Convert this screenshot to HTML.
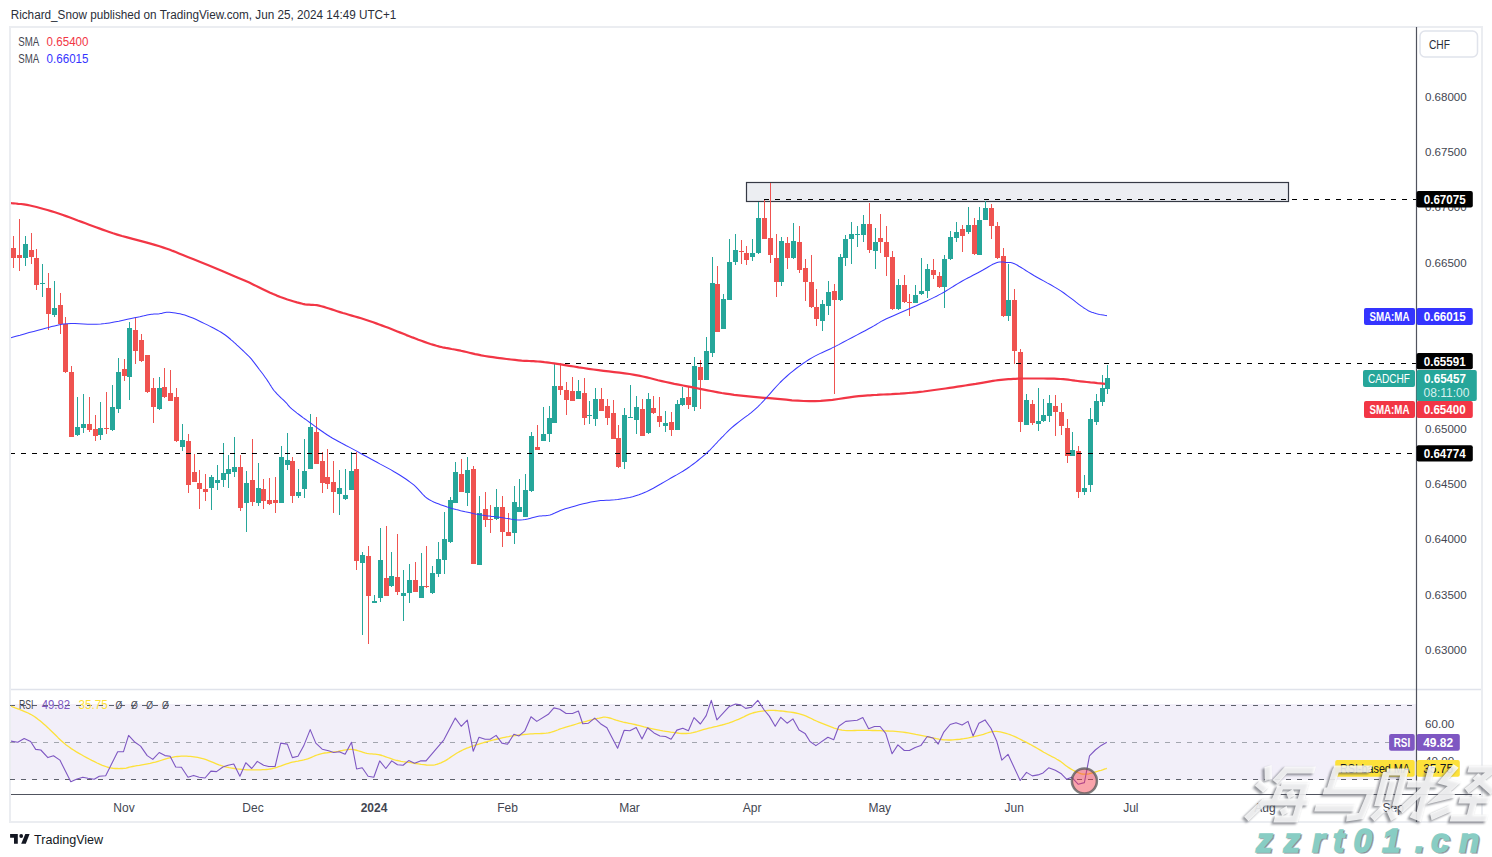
<!DOCTYPE html><html><head><meta charset="utf-8"><style>html,body{margin:0;padding:0;background:#fff;width:1492px;height:857px;overflow:hidden;position:relative}</style></head><body><svg width="1492" height="857" viewBox="0 0 1492 857" style="position:absolute;left:0;top:0">
<style>text{font-family:"Liberation Sans",sans-serif}</style>
<rect x="0" y="0" width="1492" height="857" fill="#ffffff"/>
<text x="10.7" y="19.1" font-size="12.5" fill="#2a2e39" textLength="385.7" lengthAdjust="spacingAndGlyphs">Richard_Snow published on TradingView.com, Jun 25, 2024 14:49 UTC+1</text>
<rect x="10" y="27" width="1472" height="795" fill="none" stroke="#ebedf1" stroke-width="2"/>
<rect x="11" y="704" width="1405" height="76" fill="#f2eff9"/>
<line x1="11" y1="689.5" x2="1481" y2="689.5" stroke="#e0e3eb" stroke-width="1.5"/>
<g shape-rendering="crispEdges">
<line x1="10" y1="705.5" x2="1416" y2="705.5" stroke="#5d606b" stroke-width="1" stroke-dasharray="5,6"/>
<line x1="10" y1="742.5" x2="1416" y2="742.5" stroke="#a3a6af" stroke-width="1" stroke-dasharray="5,6"/>
<line x1="10" y1="779.5" x2="1416" y2="779.5" stroke="#5d606b" stroke-width="1" stroke-dasharray="5,6"/>
</g>
<defs><clipPath id="cp"><rect x="11" y="28" width="1405" height="661"/></clipPath>
<clipPath id="cr"><rect x="11" y="690" width="1405" height="104"/></clipPath></defs>
<g clip-path="url(#cp)">
<rect x="746.5" y="182.5" width="542" height="19" fill="#eceef2" stroke="#363a45" stroke-width="1.2"/>
<g shape-rendering="crispEdges">
<rect x="13" y="235.5" width="1" height="32.1" fill="#ef5350"/>
<rect x="11" y="248.0" width="5" height="9.8" fill="#ef5350"/>
<rect x="19" y="219.2" width="1" height="51.6" fill="#ef5350"/>
<rect x="17" y="255.0" width="5" height="3.4" fill="#ef5350"/>
<rect x="25" y="236.2" width="1" height="29.4" fill="#26a69a"/>
<rect x="23" y="243.7" width="5" height="14.7" fill="#26a69a"/>
<rect x="31" y="233.0" width="1" height="31.3" fill="#ef5350"/>
<rect x="29" y="249.6" width="5" height="7.2" fill="#ef5350"/>
<rect x="36" y="249.3" width="1" height="40.2" fill="#ef5350"/>
<rect x="34" y="257.8" width="5" height="26.8" fill="#ef5350"/>
<rect x="42" y="264.3" width="1" height="32.7" fill="#26a69a"/>
<rect x="40" y="282.8" width="5" height="1.0" fill="#26a69a"/>
<rect x="48" y="273.0" width="1" height="57.3" fill="#ef5350"/>
<rect x="46" y="287.8" width="5" height="26.2" fill="#ef5350"/>
<rect x="54" y="281.3" width="1" height="36.0" fill="#26a69a"/>
<rect x="52" y="308.0" width="5" height="6.6" fill="#26a69a"/>
<rect x="60" y="292.7" width="1" height="40.9" fill="#ef5350"/>
<rect x="58" y="304.8" width="5" height="19.0" fill="#ef5350"/>
<rect x="65" y="317.3" width="1" height="55.5" fill="#ef5350"/>
<rect x="63" y="323.8" width="5" height="48.4" fill="#ef5350"/>
<rect x="71" y="366.3" width="1" height="70.7" fill="#ef5350"/>
<rect x="69" y="372.2" width="5" height="64.3" fill="#ef5350"/>
<rect x="77" y="397.3" width="1" height="38.2" fill="#26a69a"/>
<rect x="75" y="426.7" width="5" height="8.2" fill="#26a69a"/>
<rect x="83" y="394.0" width="1" height="39.3" fill="#26a69a"/>
<rect x="81" y="423.5" width="5" height="4.2" fill="#26a69a"/>
<rect x="89" y="397.3" width="1" height="35.0" fill="#ef5350"/>
<rect x="87" y="424.4" width="5" height="5.6" fill="#ef5350"/>
<rect x="95" y="415.3" width="1" height="26.1" fill="#ef5350"/>
<rect x="93" y="429.3" width="5" height="6.6" fill="#ef5350"/>
<rect x="100" y="402.2" width="1" height="37.6" fill="#26a69a"/>
<rect x="98" y="428.4" width="5" height="6.5" fill="#26a69a"/>
<rect x="106" y="392.4" width="1" height="41.8" fill="#ef5350"/>
<rect x="104" y="428.0" width="5" height="1.0" fill="#ef5350"/>
<rect x="112" y="385.2" width="1" height="45.3" fill="#26a69a"/>
<rect x="110" y="407.1" width="5" height="22.9" fill="#26a69a"/>
<rect x="118" y="358.1" width="1" height="54.6" fill="#26a69a"/>
<rect x="116" y="372.2" width="5" height="36.6" fill="#26a69a"/>
<rect x="124" y="359.0" width="1" height="22.0" fill="#ef5350"/>
<rect x="122" y="368.9" width="5" height="7.2" fill="#ef5350"/>
<rect x="129" y="322.2" width="1" height="77.4" fill="#26a69a"/>
<rect x="127" y="327.7" width="5" height="49.0" fill="#26a69a"/>
<rect x="135" y="317.3" width="1" height="46.4" fill="#ef5350"/>
<rect x="133" y="329.7" width="5" height="20.9" fill="#ef5350"/>
<rect x="141" y="333.6" width="1" height="28.4" fill="#ef5350"/>
<rect x="139" y="340.1" width="5" height="21.3" fill="#ef5350"/>
<rect x="147" y="354.8" width="1" height="38.2" fill="#ef5350"/>
<rect x="145" y="355.0" width="5" height="37.4" fill="#ef5350"/>
<rect x="153" y="377.7" width="1" height="44.8" fill="#ef5350"/>
<rect x="151" y="387.5" width="5" height="19.6" fill="#ef5350"/>
<rect x="159" y="377.0" width="1" height="33.0" fill="#26a69a"/>
<rect x="157" y="387.5" width="5" height="21.9" fill="#26a69a"/>
<rect x="164" y="367.9" width="1" height="30.1" fill="#ef5350"/>
<rect x="162" y="386.5" width="5" height="10.8" fill="#ef5350"/>
<rect x="170" y="369.5" width="1" height="31.5" fill="#ef5350"/>
<rect x="168" y="393.1" width="5" height="7.5" fill="#ef5350"/>
<rect x="176" y="387.5" width="1" height="54.5" fill="#ef5350"/>
<rect x="174" y="397.3" width="5" height="44.1" fill="#ef5350"/>
<rect x="182" y="424.2" width="1" height="26.5" fill="#26a69a"/>
<rect x="180" y="440.0" width="5" height="6.6" fill="#26a69a"/>
<rect x="188" y="434.3" width="1" height="58.5" fill="#ef5350"/>
<rect x="186" y="441.2" width="5" height="43.4" fill="#ef5350"/>
<rect x="194" y="453.9" width="1" height="28.1" fill="#ef5350"/>
<rect x="192" y="471.9" width="5" height="9.8" fill="#ef5350"/>
<rect x="199" y="470.3" width="1" height="38.4" fill="#ef5350"/>
<rect x="197" y="483.0" width="5" height="6.0" fill="#ef5350"/>
<rect x="205" y="474.3" width="1" height="26.7" fill="#ef5350"/>
<rect x="203" y="489.0" width="5" height="2.8" fill="#ef5350"/>
<rect x="211" y="475.2" width="1" height="34.6" fill="#26a69a"/>
<rect x="209" y="477.1" width="5" height="10.8" fill="#26a69a"/>
<rect x="217" y="465.0" width="1" height="24.9" fill="#26a69a"/>
<rect x="215" y="480.0" width="5" height="2.5" fill="#26a69a"/>
<rect x="223" y="442.8" width="1" height="43.8" fill="#26a69a"/>
<rect x="221" y="473.2" width="5" height="6.5" fill="#26a69a"/>
<rect x="228" y="455.2" width="1" height="32.7" fill="#26a69a"/>
<rect x="226" y="469.1" width="5" height="4.8" fill="#26a69a"/>
<rect x="234" y="437.3" width="1" height="39.5" fill="#26a69a"/>
<rect x="232" y="467.0" width="5" height="4.6" fill="#26a69a"/>
<rect x="240" y="455.2" width="1" height="55.6" fill="#ef5350"/>
<rect x="238" y="467.0" width="5" height="40.8" fill="#ef5350"/>
<rect x="246" y="471.1" width="1" height="60.4" fill="#26a69a"/>
<rect x="244" y="483.0" width="5" height="19.6" fill="#26a69a"/>
<rect x="252" y="439.2" width="1" height="66.7" fill="#ef5350"/>
<rect x="250" y="480.0" width="5" height="21.6" fill="#ef5350"/>
<rect x="258" y="462.9" width="1" height="43.0" fill="#26a69a"/>
<rect x="256" y="488.2" width="5" height="14.4" fill="#26a69a"/>
<rect x="263" y="478.9" width="1" height="29.8" fill="#ef5350"/>
<rect x="261" y="489.0" width="5" height="11.5" fill="#ef5350"/>
<rect x="269" y="478.1" width="1" height="26.4" fill="#ef5350"/>
<rect x="267" y="500.2" width="5" height="3.6" fill="#ef5350"/>
<rect x="275" y="477.1" width="1" height="35.6" fill="#ef5350"/>
<rect x="273" y="500.2" width="5" height="2.4" fill="#ef5350"/>
<rect x="281" y="446.1" width="1" height="56.9" fill="#26a69a"/>
<rect x="279" y="457.2" width="5" height="45.4" fill="#26a69a"/>
<rect x="287" y="433.2" width="1" height="36.8" fill="#26a69a"/>
<rect x="285" y="460.1" width="5" height="4.4" fill="#26a69a"/>
<rect x="292" y="457.2" width="1" height="45.4" fill="#ef5350"/>
<rect x="290" y="461.3" width="5" height="34.3" fill="#ef5350"/>
<rect x="298" y="469.0" width="1" height="28.7" fill="#26a69a"/>
<rect x="296" y="492.3" width="5" height="3.3" fill="#26a69a"/>
<rect x="304" y="439.2" width="1" height="58.5" fill="#26a69a"/>
<rect x="302" y="471.1" width="5" height="17.9" fill="#26a69a"/>
<rect x="310" y="414.4" width="1" height="54.6" fill="#26a69a"/>
<rect x="308" y="427.0" width="5" height="41.6" fill="#26a69a"/>
<rect x="316" y="417.2" width="1" height="46.8" fill="#ef5350"/>
<rect x="314" y="432.2" width="5" height="31.5" fill="#ef5350"/>
<rect x="322" y="451.5" width="1" height="41.3" fill="#ef5350"/>
<rect x="320" y="461.3" width="5" height="21.2" fill="#ef5350"/>
<rect x="327" y="449.0" width="1" height="40.0" fill="#ef5350"/>
<rect x="325" y="476.8" width="5" height="6.9" fill="#ef5350"/>
<rect x="333" y="461.3" width="1" height="51.4" fill="#ef5350"/>
<rect x="331" y="482.0" width="5" height="9.8" fill="#ef5350"/>
<rect x="339" y="470.3" width="1" height="44.4" fill="#26a69a"/>
<rect x="337" y="488.2" width="5" height="5.8" fill="#26a69a"/>
<rect x="345" y="469.1" width="1" height="30.4" fill="#26a69a"/>
<rect x="343" y="495.1" width="5" height="3.8" fill="#26a69a"/>
<rect x="351" y="451.5" width="1" height="38.5" fill="#26a69a"/>
<rect x="349" y="471.1" width="5" height="18.4" fill="#26a69a"/>
<rect x="356" y="451.5" width="1" height="118.0" fill="#ef5350"/>
<rect x="354" y="469.4" width="5" height="91.2" fill="#ef5350"/>
<rect x="362" y="552.3" width="1" height="83.0" fill="#26a69a"/>
<rect x="360" y="555.1" width="5" height="7.7" fill="#26a69a"/>
<rect x="368" y="545.5" width="1" height="98.7" fill="#ef5350"/>
<rect x="366" y="556.3" width="5" height="40.0" fill="#ef5350"/>
<rect x="374" y="595.3" width="1" height="7.2" fill="#26a69a"/>
<rect x="372" y="601.1" width="5" height="1.4" fill="#26a69a"/>
<rect x="380" y="528.3" width="1" height="73.5" fill="#26a69a"/>
<rect x="378" y="560.4" width="5" height="37.3" fill="#26a69a"/>
<rect x="386" y="526.4" width="1" height="69.6" fill="#ef5350"/>
<rect x="384" y="577.9" width="5" height="17.9" fill="#ef5350"/>
<rect x="391" y="552.3" width="1" height="34.7" fill="#26a69a"/>
<rect x="389" y="576.2" width="5" height="10.0" fill="#26a69a"/>
<rect x="397" y="534.1" width="1" height="60.5" fill="#ef5350"/>
<rect x="395" y="577.2" width="5" height="14.3" fill="#ef5350"/>
<rect x="403" y="570.0" width="1" height="51.0" fill="#26a69a"/>
<rect x="401" y="593.4" width="5" height="2.4" fill="#26a69a"/>
<rect x="409" y="564.2" width="1" height="38.3" fill="#26a69a"/>
<rect x="407" y="580.3" width="5" height="13.1" fill="#26a69a"/>
<rect x="415" y="562.3" width="1" height="29.7" fill="#ef5350"/>
<rect x="413" y="580.3" width="5" height="11.2" fill="#ef5350"/>
<rect x="421" y="553.2" width="1" height="44.8" fill="#26a69a"/>
<rect x="419" y="586.2" width="5" height="11.5" fill="#26a69a"/>
<rect x="426" y="546.0" width="1" height="42.0" fill="#ef5350"/>
<rect x="424" y="586.2" width="5" height="1.2" fill="#ef5350"/>
<rect x="432" y="565.9" width="1" height="27.6" fill="#26a69a"/>
<rect x="430" y="573.1" width="5" height="19.9" fill="#26a69a"/>
<rect x="438" y="542.0" width="1" height="34.7" fill="#26a69a"/>
<rect x="436" y="559.4" width="5" height="14.4" fill="#26a69a"/>
<rect x="444" y="512.0" width="1" height="61.8" fill="#26a69a"/>
<rect x="442" y="538.8" width="5" height="21.1" fill="#26a69a"/>
<rect x="450" y="496.5" width="1" height="46.0" fill="#26a69a"/>
<rect x="448" y="500.1" width="5" height="41.9" fill="#26a69a"/>
<rect x="455" y="461.8" width="1" height="41.2" fill="#26a69a"/>
<rect x="453" y="471.8" width="5" height="30.7" fill="#26a69a"/>
<rect x="461" y="459.4" width="1" height="32.6" fill="#ef5350"/>
<rect x="459" y="474.2" width="5" height="17.5" fill="#ef5350"/>
<rect x="467" y="457.0" width="1" height="49.0" fill="#26a69a"/>
<rect x="465" y="469.7" width="5" height="23.2" fill="#26a69a"/>
<rect x="473" y="466.3" width="1" height="97.7" fill="#ef5350"/>
<rect x="471" y="468.9" width="5" height="94.6" fill="#ef5350"/>
<rect x="479" y="496.2" width="1" height="68.8" fill="#26a69a"/>
<rect x="477" y="513.2" width="5" height="51.5" fill="#26a69a"/>
<rect x="485" y="491.5" width="1" height="35.9" fill="#ef5350"/>
<rect x="483" y="509.4" width="5" height="10.3" fill="#ef5350"/>
<rect x="490" y="505.3" width="1" height="27.3" fill="#ef5350"/>
<rect x="488" y="518.5" width="5" height="1.2" fill="#ef5350"/>
<rect x="496" y="489.1" width="1" height="30.4" fill="#26a69a"/>
<rect x="494" y="507.0" width="5" height="12.0" fill="#26a69a"/>
<rect x="502" y="496.2" width="1" height="50.3" fill="#ef5350"/>
<rect x="500" y="507.0" width="5" height="25.2" fill="#ef5350"/>
<rect x="508" y="513.0" width="1" height="23.0" fill="#ef5350"/>
<rect x="506" y="532.2" width="5" height="3.6" fill="#ef5350"/>
<rect x="514" y="486.2" width="1" height="57.9" fill="#26a69a"/>
<rect x="512" y="502.2" width="5" height="30.4" fill="#26a69a"/>
<rect x="519" y="479.0" width="1" height="33.0" fill="#26a69a"/>
<rect x="517" y="507.0" width="5" height="4.8" fill="#26a69a"/>
<rect x="525" y="474.2" width="1" height="42.8" fill="#26a69a"/>
<rect x="523" y="490.3" width="5" height="26.3" fill="#26a69a"/>
<rect x="531" y="432.1" width="1" height="59.4" fill="#26a69a"/>
<rect x="529" y="435.9" width="5" height="55.1" fill="#26a69a"/>
<rect x="537" y="424.9" width="1" height="25.1" fill="#ef5350"/>
<rect x="535" y="447.2" width="5" height="2.4" fill="#ef5350"/>
<rect x="543" y="407.2" width="1" height="33.8" fill="#26a69a"/>
<rect x="541" y="434.0" width="5" height="6.7" fill="#26a69a"/>
<rect x="549" y="405.8" width="1" height="35.9" fill="#26a69a"/>
<rect x="547" y="417.7" width="5" height="16.3" fill="#26a69a"/>
<rect x="554" y="363.4" width="1" height="59.6" fill="#26a69a"/>
<rect x="552" y="385.6" width="5" height="36.9" fill="#26a69a"/>
<rect x="560" y="363.4" width="1" height="31.1" fill="#ef5350"/>
<rect x="558" y="386.1" width="5" height="3.6" fill="#ef5350"/>
<rect x="566" y="381.8" width="1" height="33.5" fill="#ef5350"/>
<rect x="564" y="390.4" width="5" height="9.6" fill="#ef5350"/>
<rect x="572" y="377.0" width="1" height="24.0" fill="#ef5350"/>
<rect x="570" y="390.9" width="5" height="9.6" fill="#ef5350"/>
<rect x="578" y="380.1" width="1" height="18.9" fill="#26a69a"/>
<rect x="576" y="390.9" width="5" height="7.7" fill="#26a69a"/>
<rect x="584" y="377.7" width="1" height="47.2" fill="#ef5350"/>
<rect x="582" y="392.8" width="5" height="24.9" fill="#ef5350"/>
<rect x="589" y="401.0" width="1" height="23.0" fill="#26a69a"/>
<rect x="587" y="414.8" width="5" height="1.0" fill="#26a69a"/>
<rect x="595" y="388.2" width="1" height="37.5" fill="#26a69a"/>
<rect x="593" y="399.1" width="5" height="19.6" fill="#26a69a"/>
<rect x="601" y="388.2" width="1" height="22.8" fill="#ef5350"/>
<rect x="599" y="399.1" width="5" height="11.5" fill="#ef5350"/>
<rect x="607" y="399.1" width="1" height="25.5" fill="#ef5350"/>
<rect x="605" y="406.1" width="5" height="11.5" fill="#ef5350"/>
<rect x="613" y="400.1" width="1" height="38.9" fill="#ef5350"/>
<rect x="611" y="413.2" width="5" height="25.3" fill="#ef5350"/>
<rect x="618" y="424.9" width="1" height="42.6" fill="#ef5350"/>
<rect x="616" y="438.0" width="5" height="29.4" fill="#ef5350"/>
<rect x="624" y="408.3" width="1" height="60.4" fill="#26a69a"/>
<rect x="622" y="415.1" width="5" height="46.6" fill="#26a69a"/>
<rect x="630" y="384.9" width="1" height="33.1" fill="#26a69a"/>
<rect x="628" y="416.6" width="5" height="1.0" fill="#26a69a"/>
<rect x="636" y="396.3" width="1" height="38.1" fill="#26a69a"/>
<rect x="634" y="407.0" width="5" height="13.4" fill="#26a69a"/>
<rect x="642" y="399.1" width="1" height="36.9" fill="#ef5350"/>
<rect x="640" y="408.9" width="5" height="26.6" fill="#ef5350"/>
<rect x="648" y="393.1" width="1" height="40.9" fill="#26a69a"/>
<rect x="646" y="399.1" width="5" height="34.3" fill="#26a69a"/>
<rect x="653" y="396.3" width="1" height="17.2" fill="#ef5350"/>
<rect x="651" y="408.3" width="5" height="4.4" fill="#ef5350"/>
<rect x="659" y="397.2" width="1" height="29.4" fill="#ef5350"/>
<rect x="657" y="415.9" width="5" height="5.8" fill="#ef5350"/>
<rect x="665" y="411.0" width="1" height="20.5" fill="#26a69a"/>
<rect x="663" y="422.5" width="5" height="3.2" fill="#26a69a"/>
<rect x="671" y="411.9" width="1" height="24.5" fill="#ef5350"/>
<rect x="669" y="422.1" width="5" height="7.4" fill="#ef5350"/>
<rect x="677" y="400.1" width="1" height="29.9" fill="#26a69a"/>
<rect x="675" y="404.0" width="5" height="25.5" fill="#26a69a"/>
<rect x="682" y="387.4" width="1" height="18.1" fill="#26a69a"/>
<rect x="680" y="398.0" width="5" height="7.3" fill="#26a69a"/>
<rect x="688" y="386.5" width="1" height="22.1" fill="#ef5350"/>
<rect x="686" y="397.2" width="5" height="8.1" fill="#ef5350"/>
<rect x="694" y="357.1" width="1" height="53.5" fill="#26a69a"/>
<rect x="692" y="366.1" width="5" height="40.5" fill="#26a69a"/>
<rect x="700" y="360.4" width="1" height="48.2" fill="#ef5350"/>
<rect x="698" y="366.9" width="5" height="12.6" fill="#ef5350"/>
<rect x="706" y="337.2" width="1" height="42.8" fill="#26a69a"/>
<rect x="704" y="350.9" width="5" height="29.0" fill="#26a69a"/>
<rect x="712" y="257.1" width="1" height="100.2" fill="#26a69a"/>
<rect x="710" y="283.3" width="5" height="69.4" fill="#26a69a"/>
<rect x="717" y="266.1" width="1" height="65.9" fill="#ef5350"/>
<rect x="715" y="284.1" width="5" height="47.5" fill="#ef5350"/>
<rect x="723" y="294.3" width="1" height="34.7" fill="#26a69a"/>
<rect x="721" y="298.7" width="5" height="29.8" fill="#26a69a"/>
<rect x="729" y="239.1" width="1" height="60.9" fill="#26a69a"/>
<rect x="727" y="261.7" width="5" height="37.8" fill="#26a69a"/>
<rect x="735" y="234.0" width="1" height="30.8" fill="#26a69a"/>
<rect x="733" y="249.9" width="5" height="11.8" fill="#26a69a"/>
<rect x="741" y="240.4" width="1" height="23.1" fill="#ef5350"/>
<rect x="739" y="250.7" width="5" height="1.2" fill="#ef5350"/>
<rect x="746" y="245.5" width="1" height="19.8" fill="#ef5350"/>
<rect x="744" y="252.5" width="5" height="7.7" fill="#ef5350"/>
<rect x="752" y="238.6" width="1" height="22.3" fill="#26a69a"/>
<rect x="750" y="253.2" width="5" height="3.4" fill="#26a69a"/>
<rect x="758" y="201.8" width="1" height="51.7" fill="#26a69a"/>
<rect x="756" y="218.0" width="5" height="35.2" fill="#26a69a"/>
<rect x="764" y="199.3" width="1" height="39.7" fill="#ef5350"/>
<rect x="762" y="218.0" width="5" height="20.6" fill="#ef5350"/>
<rect x="770" y="182.6" width="1" height="80.1" fill="#ef5350"/>
<rect x="768" y="237.8" width="5" height="16.7" fill="#ef5350"/>
<rect x="776" y="234.0" width="1" height="62.9" fill="#ef5350"/>
<rect x="774" y="258.4" width="5" height="23.1" fill="#ef5350"/>
<rect x="781" y="237.0" width="1" height="48.9" fill="#26a69a"/>
<rect x="779" y="241.2" width="5" height="40.3" fill="#26a69a"/>
<rect x="787" y="237.0" width="1" height="31.6" fill="#ef5350"/>
<rect x="785" y="243.0" width="5" height="15.4" fill="#ef5350"/>
<rect x="793" y="223.2" width="1" height="35.8" fill="#26a69a"/>
<rect x="791" y="241.2" width="5" height="17.2" fill="#26a69a"/>
<rect x="799" y="226.2" width="1" height="46.8" fill="#ef5350"/>
<rect x="797" y="242.2" width="5" height="28.2" fill="#ef5350"/>
<rect x="805" y="259.1" width="1" height="41.7" fill="#ef5350"/>
<rect x="803" y="268.1" width="5" height="13.4" fill="#ef5350"/>
<rect x="811" y="255.0" width="1" height="52.5" fill="#ef5350"/>
<rect x="809" y="281.5" width="5" height="25.7" fill="#ef5350"/>
<rect x="816" y="289.2" width="1" height="36.7" fill="#ef5350"/>
<rect x="814" y="307.2" width="5" height="11.5" fill="#ef5350"/>
<rect x="822" y="299.9" width="1" height="31.1" fill="#26a69a"/>
<rect x="820" y="303.9" width="5" height="16.8" fill="#26a69a"/>
<rect x="828" y="281.2" width="1" height="33.5" fill="#26a69a"/>
<rect x="826" y="292.0" width="5" height="13.6" fill="#26a69a"/>
<rect x="834" y="284.1" width="1" height="109.6" fill="#ef5350"/>
<rect x="832" y="291.2" width="5" height="9.1" fill="#ef5350"/>
<rect x="840" y="253.7" width="1" height="46.8" fill="#26a69a"/>
<rect x="838" y="257.2" width="5" height="43.1" fill="#26a69a"/>
<rect x="845" y="235.2" width="1" height="31.1" fill="#26a69a"/>
<rect x="843" y="238.6" width="5" height="19.1" fill="#26a69a"/>
<rect x="851" y="221.8" width="1" height="42.2" fill="#26a69a"/>
<rect x="849" y="233.8" width="5" height="5.5" fill="#26a69a"/>
<rect x="857" y="225.6" width="1" height="20.9" fill="#26a69a"/>
<rect x="855" y="234.0" width="5" height="1.0" fill="#26a69a"/>
<rect x="863" y="215.3" width="1" height="26.4" fill="#26a69a"/>
<rect x="861" y="223.7" width="5" height="10.8" fill="#26a69a"/>
<rect x="869" y="203.4" width="1" height="49.1" fill="#ef5350"/>
<rect x="867" y="223.7" width="5" height="25.9" fill="#ef5350"/>
<rect x="875" y="228.0" width="1" height="40.7" fill="#26a69a"/>
<rect x="873" y="241.7" width="5" height="8.8" fill="#26a69a"/>
<rect x="880" y="214.2" width="1" height="38.3" fill="#ef5350"/>
<rect x="878" y="238.1" width="5" height="3.6" fill="#ef5350"/>
<rect x="886" y="226.1" width="1" height="50.3" fill="#ef5350"/>
<rect x="884" y="241.7" width="5" height="15.1" fill="#ef5350"/>
<rect x="892" y="251.3" width="1" height="58.2" fill="#ef5350"/>
<rect x="890" y="256.8" width="5" height="52.6" fill="#ef5350"/>
<rect x="898" y="278.8" width="1" height="30.7" fill="#26a69a"/>
<rect x="896" y="284.8" width="5" height="24.6" fill="#26a69a"/>
<rect x="904" y="275.2" width="1" height="28.0" fill="#ef5350"/>
<rect x="902" y="284.8" width="5" height="16.7" fill="#ef5350"/>
<rect x="909" y="294.4" width="1" height="21.5" fill="#ef5350"/>
<rect x="907" y="302.0" width="5" height="1.0" fill="#ef5350"/>
<rect x="915" y="284.8" width="1" height="18.2" fill="#26a69a"/>
<rect x="913" y="295.1" width="5" height="7.6" fill="#26a69a"/>
<rect x="921" y="257.7" width="1" height="37.3" fill="#26a69a"/>
<rect x="919" y="290.8" width="5" height="3.6" fill="#26a69a"/>
<rect x="927" y="264.0" width="1" height="33.5" fill="#26a69a"/>
<rect x="925" y="268.7" width="5" height="22.5" fill="#26a69a"/>
<rect x="933" y="259.2" width="1" height="19.6" fill="#ef5350"/>
<rect x="931" y="269.7" width="5" height="4.8" fill="#ef5350"/>
<rect x="939" y="271.6" width="1" height="15.9" fill="#ef5350"/>
<rect x="937" y="275.9" width="5" height="11.3" fill="#ef5350"/>
<rect x="944" y="255.3" width="1" height="52.2" fill="#26a69a"/>
<rect x="942" y="259.2" width="5" height="28.0" fill="#26a69a"/>
<rect x="950" y="230.7" width="1" height="28.8" fill="#26a69a"/>
<rect x="948" y="237.3" width="5" height="22.0" fill="#26a69a"/>
<rect x="956" y="222.1" width="1" height="20.0" fill="#26a69a"/>
<rect x="954" y="232.1" width="5" height="5.8" fill="#26a69a"/>
<rect x="962" y="225.0" width="1" height="26.6" fill="#ef5350"/>
<rect x="960" y="229.3" width="5" height="7.1" fill="#ef5350"/>
<rect x="968" y="207.0" width="1" height="26.6" fill="#26a69a"/>
<rect x="966" y="225.0" width="5" height="7.1" fill="#26a69a"/>
<rect x="974" y="218.4" width="1" height="36.1" fill="#ef5350"/>
<rect x="972" y="225.0" width="5" height="29.4" fill="#ef5350"/>
<rect x="979" y="207.0" width="1" height="48.2" fill="#26a69a"/>
<rect x="977" y="220.1" width="5" height="34.9" fill="#26a69a"/>
<rect x="985" y="200.7" width="1" height="19.5" fill="#26a69a"/>
<rect x="983" y="207.9" width="5" height="12.2" fill="#26a69a"/>
<rect x="991" y="204.1" width="1" height="35.2" fill="#ef5350"/>
<rect x="989" y="207.9" width="5" height="18.5" fill="#ef5350"/>
<rect x="997" y="222.1" width="1" height="36.4" fill="#ef5350"/>
<rect x="995" y="225.9" width="5" height="32.5" fill="#ef5350"/>
<rect x="1003" y="247.9" width="1" height="68.6" fill="#ef5350"/>
<rect x="1001" y="256.4" width="5" height="60.0" fill="#ef5350"/>
<rect x="1008" y="263.6" width="1" height="57.1" fill="#26a69a"/>
<rect x="1006" y="300.1" width="5" height="15.5" fill="#26a69a"/>
<rect x="1014" y="289.3" width="1" height="74.3" fill="#ef5350"/>
<rect x="1012" y="300.1" width="5" height="50.6" fill="#ef5350"/>
<rect x="1020" y="348.7" width="1" height="83.4" fill="#ef5350"/>
<rect x="1018" y="352.1" width="5" height="70.0" fill="#ef5350"/>
<rect x="1026" y="393.8" width="1" height="31.2" fill="#26a69a"/>
<rect x="1024" y="400.2" width="5" height="24.4" fill="#26a69a"/>
<rect x="1032" y="400.2" width="1" height="24.4" fill="#ef5350"/>
<rect x="1030" y="403.8" width="5" height="19.0" fill="#ef5350"/>
<rect x="1038" y="388.0" width="1" height="43.4" fill="#26a69a"/>
<rect x="1036" y="421.3" width="5" height="2.4" fill="#26a69a"/>
<rect x="1043" y="398.9" width="1" height="22.6" fill="#26a69a"/>
<rect x="1041" y="415.2" width="5" height="6.1" fill="#26a69a"/>
<rect x="1049" y="394.7" width="1" height="27.2" fill="#26a69a"/>
<rect x="1047" y="402.5" width="5" height="13.9" fill="#26a69a"/>
<rect x="1055" y="394.7" width="1" height="41.6" fill="#ef5350"/>
<rect x="1053" y="406.1" width="5" height="6.2" fill="#ef5350"/>
<rect x="1061" y="402.5" width="1" height="32.0" fill="#ef5350"/>
<rect x="1059" y="412.3" width="5" height="14.1" fill="#ef5350"/>
<rect x="1067" y="419.1" width="1" height="44.3" fill="#ef5350"/>
<rect x="1065" y="428.2" width="5" height="27.5" fill="#ef5350"/>
<rect x="1072" y="432.2" width="1" height="23.8" fill="#26a69a"/>
<rect x="1070" y="450.2" width="5" height="5.5" fill="#26a69a"/>
<rect x="1078" y="446.3" width="1" height="52.0" fill="#ef5350"/>
<rect x="1076" y="451.3" width="5" height="40.2" fill="#ef5350"/>
<rect x="1084" y="474.8" width="1" height="19.9" fill="#26a69a"/>
<rect x="1082" y="488.2" width="5" height="4.2" fill="#26a69a"/>
<rect x="1090" y="408.3" width="1" height="84.1" fill="#26a69a"/>
<rect x="1088" y="419.1" width="5" height="65.5" fill="#26a69a"/>
<rect x="1096" y="394.2" width="1" height="30.4" fill="#26a69a"/>
<rect x="1094" y="401.1" width="5" height="20.8" fill="#26a69a"/>
<rect x="1102" y="375.4" width="1" height="30.2" fill="#26a69a"/>
<rect x="1100" y="388.0" width="5" height="14.0" fill="#26a69a"/>
<rect x="1107" y="365.3" width="1" height="28.2" fill="#26a69a"/>
<rect x="1105" y="377.9" width="5" height="11.4" fill="#26a69a"/>
</g>
<g shape-rendering="crispEdges">
<line x1="764" y1="199.5" x2="1416" y2="199.5" stroke="#000" stroke-width="1" stroke-dasharray="5,6"/>
<line x1="554" y1="363.5" x2="1416" y2="363.5" stroke="#000" stroke-width="1" stroke-dasharray="5,6"/>
<line x1="10" y1="453.5" x2="1416" y2="453.5" stroke="#000" stroke-width="1" stroke-dasharray="5,6"/>
</g>
<polyline points="10.0,203.0 11.5,203.2 13.4,203.3 15.7,203.5 18.2,203.8 21.0,204.0 23.9,204.4 27.0,204.9 30.0,205.5 33.2,206.2 36.5,207.0 40.0,208.0 43.6,209.0 47.4,210.0 51.1,211.1 54.9,212.3 58.6,213.5 62.3,214.8 66.1,216.1 70.0,217.5 73.9,219.0 77.7,220.5 81.6,221.9 85.4,223.3 89.1,224.7 92.6,226.0 96.0,227.2 99.2,228.4 102.5,229.6 105.8,230.8 109.3,232.0 113.1,233.3 117.3,234.6 122.0,236.0 127.2,237.4 132.7,238.9 138.4,240.4 144.1,241.9 149.6,243.4 154.8,244.9 159.5,246.3 163.5,247.6 166.9,248.7 169.9,249.8 172.7,250.9 175.7,252.0 179.0,253.4 182.9,255.0 187.7,256.9 193.6,259.3 200.3,262.0 207.8,265.1 215.6,268.3 223.4,271.6 230.9,274.7 237.9,277.7 244.0,280.3 249.3,282.6 254.0,284.9 258.3,286.9 262.3,288.9 266.0,290.7 269.6,292.5 273.2,294.1 276.8,295.6 280.4,297.0 284.0,298.3 287.4,299.5 290.7,300.5 293.9,301.5 297.0,302.4 299.9,303.1 302.6,303.8 305.1,304.3 307.3,304.6 309.2,304.7 311.1,304.8 312.9,304.9 314.8,305.0 316.8,305.2 319.0,305.6 321.4,306.2 323.9,306.9 326.4,307.7 329.0,308.5 331.7,309.4 334.4,310.3 337.2,311.2 340.0,312.1 342.9,313.0 345.8,313.8 348.8,314.7 351.8,315.6 354.9,316.5 358.0,317.4 361.1,318.3 364.1,319.3 367.1,320.3 370.1,321.3 373.2,322.3 376.2,323.4 379.2,324.5 382.3,325.6 385.3,326.7 388.3,327.8 391.3,329.0 394.3,330.2 397.3,331.4 400.4,332.6 403.4,333.8 406.4,335.1 409.4,336.2 412.4,337.4 415.4,338.5 418.4,339.7 421.4,340.8 424.4,341.9 427.5,343.0 430.5,344.0 433.5,344.9 436.5,345.8 439.5,346.6 442.5,347.3 445.6,347.9 448.6,348.4 451.6,349.0 454.7,349.5 457.7,350.1 460.7,350.7 463.7,351.4 466.5,352.0 469.3,352.7 472.1,353.4 475.1,354.1 478.1,354.7 481.3,355.4 484.8,356.0 488.7,356.6 492.9,357.2 497.4,357.8 502.0,358.4 506.6,359.0 510.9,359.5 515.0,359.9 518.6,360.3 521.7,360.6 524.4,360.8 526.9,360.9 529.2,361.0 531.3,361.1 533.4,361.2 535.6,361.3 537.9,361.5 540.2,361.7 542.3,361.9 544.4,362.2 546.5,362.4 548.7,362.7 551.2,363.0 554.0,363.4 557.2,363.9 560.9,364.4 564.9,365.1 569.3,365.8 573.9,366.5 578.7,367.3 583.6,368.0 588.5,368.8 593.4,369.5 598.4,370.2 603.5,370.8 608.8,371.4 614.2,372.1 619.5,372.7 624.7,373.3 629.7,374.0 634.4,374.8 638.8,375.6 642.9,376.5 646.8,377.4 650.5,378.3 654.2,379.2 658.0,380.2 661.8,381.1 665.8,382.0 670.0,382.9 674.3,383.8 678.6,384.6 683.0,385.5 687.4,386.4 691.7,387.2 695.9,388.0 700.0,388.8 703.9,389.6 707.5,390.3 711.0,391.0 714.5,391.7 718.0,392.3 721.7,393.0 725.5,393.6 729.7,394.2 734.1,394.8 738.8,395.3 743.6,395.8 748.6,396.3 753.6,396.8 758.8,397.3 764.1,397.8 769.4,398.2 774.8,398.7 780.4,399.2 786.2,399.7 791.9,400.3 797.8,400.7 803.6,401.0 809.4,401.2 815.0,401.2 820.7,400.9 826.6,400.4 832.5,399.8 838.4,399.0 844.0,398.2 849.4,397.4 854.3,396.7 858.7,396.2 862.4,395.8 865.3,395.6 867.8,395.4 870.1,395.3 872.2,395.1 874.4,395.0 877.0,394.9 880.0,394.7 883.5,394.5 887.4,394.3 891.5,394.1 895.7,393.8 900.0,393.6 904.3,393.3 908.4,393.0 912.4,392.7 916.2,392.3 919.9,391.9 923.5,391.5 927.2,391.0 930.7,390.5 934.3,390.0 938.0,389.5 941.7,389.0 945.5,388.5 949.5,387.9 953.5,387.3 957.5,386.7 961.4,386.1 965.3,385.5 969.0,384.9 972.5,384.4 975.8,383.9 978.9,383.3 981.9,382.8 984.7,382.3 987.5,381.8 990.2,381.3 992.9,380.9 995.6,380.5 998.3,380.2 1000.9,379.9 1003.4,379.6 1005.9,379.4 1008.4,379.2 1010.9,379.1 1013.3,378.9 1015.7,378.8 1018.0,378.7 1020.3,378.6 1022.4,378.5 1024.6,378.5 1026.8,378.5 1029.1,378.5 1031.5,378.5 1034.2,378.5 1037.1,378.5 1040.4,378.5 1043.7,378.5 1047.2,378.6 1050.7,378.6 1054.1,378.7 1057.4,378.8 1060.4,379.0 1063.2,379.2 1065.7,379.4 1068.1,379.7 1070.5,380.0 1072.8,380.3 1075.2,380.7 1077.7,381.0 1080.4,381.3 1083.4,381.6 1086.8,382.0 1090.4,382.4 1094.0,382.7 1097.4,383.1 1100.6,383.4 1103.2,383.7 1105.1,383.9" fill="none" stroke="#f23645" stroke-width="2.2" stroke-linejoin="round"/>
<polyline points="10.0,338.0 12.5,337.3 15.9,336.3 20.0,335.2 24.4,333.9 29.1,332.6 33.7,331.4 38.1,330.2 42.0,329.2 45.4,328.3 48.6,327.5 51.6,326.6 54.5,325.9 57.4,325.2 60.5,324.6 63.7,324.1 67.2,323.7 71.0,323.5 75.0,323.5 79.2,323.7 83.5,323.9 87.8,324.2 92.2,324.3 96.5,324.3 100.8,324.1 105.1,323.6 109.6,322.9 114.2,322.1 118.8,321.2 123.2,320.2 127.4,319.3 131.2,318.5 134.5,317.8 137.4,317.2 139.8,316.7 141.9,316.2 143.8,315.8 145.4,315.4 147.0,315.1 148.5,314.8 150.0,314.5 151.5,314.3 152.7,314.2 153.9,314.1 155.0,314.0 156.0,314.0 157.1,314.0 158.1,313.9 159.3,313.8 160.5,313.6 161.6,313.4 162.8,313.1 163.9,312.8 165.2,312.5 166.5,312.3 168.0,312.2 169.6,312.3 171.4,312.5 173.4,312.7 175.5,313.0 177.7,313.4 180.0,313.8 182.4,314.4 184.8,315.1 187.3,315.9 189.9,316.9 192.8,318.0 195.7,319.3 198.7,320.7 201.7,322.2 204.6,323.6 207.3,324.9 209.7,326.1 211.9,327.2 213.9,328.2 215.7,329.2 217.5,330.2 219.1,331.1 220.7,332.0 222.2,333.0 223.7,334.0 225.2,335.0 226.5,336.0 227.8,337.0 229.0,338.0 230.2,339.0 231.4,340.1 232.7,341.2 234.0,342.4 235.5,343.7 237.0,345.1 238.7,346.6 240.3,348.1 241.9,349.6 243.4,351.0 244.8,352.4 246.1,353.6 247.1,354.6 247.9,355.4 248.6,356.0 249.2,356.6 249.9,357.3 250.6,358.1 251.5,359.2 252.6,360.6 254.0,362.4 255.7,364.6 257.6,367.1 259.5,369.7 261.5,372.3 263.4,374.8 265.1,377.2 266.6,379.3 267.8,381.1 268.9,382.7 269.8,384.2 270.7,385.6 271.5,387.0 272.4,388.3 273.3,389.6 274.4,391.0 275.7,392.4 277.0,393.9 278.5,395.4 280.0,396.8 281.5,398.3 283.0,399.6 284.3,400.9 285.5,402.1 286.5,403.1 287.3,404.0 287.9,404.9 288.5,405.6 289.2,406.4 289.9,407.2 290.9,408.1 292.1,409.2 293.6,410.4 295.2,411.7 297.0,413.1 298.9,414.5 300.9,416.0 303.0,417.6 305.3,419.2 307.6,420.9 310.1,422.7 312.7,424.6 315.4,426.6 318.3,428.7 321.2,430.7 324.1,432.8 327.0,434.7 329.8,436.5 332.6,438.2 335.4,439.8 338.1,441.3 340.9,442.8 343.7,444.2 346.4,445.7 349.2,447.1 352.0,448.6 354.8,450.1 357.6,451.6 360.3,453.2 363.1,454.7 365.9,456.2 368.7,457.7 371.4,459.3 374.2,460.8 377.0,462.3 379.8,463.9 382.7,465.4 385.5,466.9 388.3,468.4 391.1,469.9 393.7,471.5 396.3,473.0 398.8,474.5 401.2,476.0 403.5,477.5 405.8,479.0 407.9,480.5 410.1,482.1 412.1,483.6 414.1,485.2 415.9,486.8 417.6,488.6 419.2,490.3 420.8,492.1 422.3,493.9 423.9,495.5 425.6,497.1 427.4,498.5 429.4,499.8 431.5,500.9 433.7,502.0 436.0,502.9 438.3,503.8 440.6,504.7 442.9,505.5 445.1,506.3 447.3,507.1 449.5,507.8 451.7,508.4 453.9,509.0 456.1,509.6 458.3,510.1 460.6,510.7 462.9,511.2 465.3,511.8 467.8,512.3 470.3,512.8 472.9,513.4 475.4,513.9 477.9,514.3 480.4,514.8 482.8,515.2 485.1,515.6 487.3,515.9 489.5,516.1 491.7,516.4 493.9,516.6 496.1,516.9 498.3,517.1 500.6,517.4 503.0,517.7 505.5,518.2 508.0,518.6 510.6,519.1 513.1,519.5 515.6,519.8 518.1,520.0 520.5,520.0 522.9,519.8 525.2,519.5 527.6,519.0 529.9,518.4 532.1,517.8 534.2,517.2 536.3,516.7 538.2,516.3 539.9,516.0 541.5,515.9 542.9,515.8 544.3,515.8 545.6,515.7 546.9,515.5 548.4,515.3 550.0,514.9 551.6,514.4 553.2,513.7 554.8,513.0 556.5,512.2 558.3,511.4 560.3,510.5 562.6,509.7 565.2,508.8 568.2,507.9 571.6,506.9 575.3,505.9 579.2,504.8 583.2,503.8 587.1,502.9 590.8,502.1 594.3,501.4 597.5,500.9 600.5,500.6 603.4,500.4 606.3,500.3 609.1,500.2 611.9,500.0 614.8,499.8 617.7,499.4 620.7,498.9 623.6,498.5 626.6,497.9 629.6,497.4 632.6,496.7 635.7,495.8 638.9,494.8 642.2,493.6 645.7,492.1 649.4,490.2 653.3,488.2 657.2,486.0 661.1,483.8 664.8,481.6 668.3,479.6 671.4,477.8 674.1,476.3 676.6,474.9 678.8,473.6 680.9,472.4 682.9,471.3 684.8,470.0 686.8,468.7 688.9,467.3 691.1,465.7 693.4,464.0 695.6,462.3 697.9,460.5 700.1,458.7 702.3,456.9 704.4,455.1 706.4,453.3 708.3,451.5 710.1,449.8 711.8,448.0 713.4,446.3 715.1,444.5 716.7,442.8 718.3,441.0 720.0,439.3 721.6,437.6 723.2,436.1 724.7,434.5 726.2,433.0 727.8,431.4 729.6,429.7 731.5,427.9 733.7,426.0 736.2,424.0 738.9,421.9 741.8,419.7 744.8,417.4 748.0,415.1 751.2,412.6 754.4,409.9 757.5,407.1 760.6,404.0 763.8,400.6 767.0,397.0 770.3,393.3 773.5,389.6 776.8,386.0 780.1,382.5 783.3,379.4 786.5,376.5 789.7,373.7 792.9,371.1 796.1,368.5 799.4,366.1 802.6,363.8 805.8,361.6 809.0,359.5 812.2,357.6 815.3,355.9 818.3,354.4 821.4,352.9 824.5,351.5 827.8,350.0 831.2,348.4 834.8,346.6 838.8,344.6 843.1,342.3 847.6,339.9 852.2,337.5 856.7,335.1 861.1,332.8 865.1,330.7 868.6,328.8 871.5,327.2 873.8,325.9 875.8,324.7 877.5,323.6 879.3,322.6 881.2,321.4 883.5,320.2 886.4,318.8 889.9,317.2 894.0,315.4 898.4,313.4 903.0,311.5 907.6,309.5 912.1,307.6 916.3,305.8 920.0,304.1 923.3,302.6 926.3,301.2 929.0,299.9 931.6,298.6 934.1,297.4 936.5,296.2 938.9,294.9 941.4,293.6 943.9,292.2 946.3,290.8 948.6,289.4 950.9,287.9 953.2,286.5 955.5,285.0 957.8,283.6 960.2,282.2 962.7,280.8 965.2,279.4 967.8,278.0 970.4,276.7 973.0,275.3 975.5,274.0 978.0,272.7 980.3,271.5 982.5,270.3 984.7,269.0 986.9,267.7 988.9,266.5 990.9,265.4 992.8,264.3 994.7,263.5 996.4,262.8 998.0,262.3 999.5,262.1 1000.9,262.0 1002.2,262.0 1003.5,262.1 1004.7,262.2 1005.9,262.4 1007.1,262.5 1008.2,262.5 1009.1,262.5 1009.9,262.5 1010.7,262.6 1011.5,262.7 1012.5,263.0 1013.7,263.4 1015.2,264.1 1017.0,265.0 1018.9,266.2 1021.1,267.5 1023.4,268.9 1025.8,270.5 1028.4,272.1 1031.1,273.8 1033.9,275.5 1036.9,277.2 1040.1,279.0 1043.6,280.9 1047.1,282.9 1050.7,284.8 1054.2,286.9 1057.6,288.9 1060.8,290.9 1063.9,293.0 1067.0,295.3 1070.1,297.6 1073.2,299.9 1076.0,302.2 1078.8,304.3 1081.3,306.1 1083.5,307.7 1085.4,308.9 1087.0,309.9 1088.3,310.7 1089.5,311.3 1090.6,311.8 1091.7,312.2 1092.9,312.6 1094.3,313.1 1095.9,313.6 1097.6,314.0 1099.5,314.4 1101.3,314.7 1103.1,315.0 1104.7,315.3 1106.0,315.5 1107.0,315.7" fill="none" stroke="#3a3aff" stroke-width="1.05" stroke-linejoin="round"/>
</g>
<g clip-path="url(#cr)">
<polyline points="10.0,705.9 11.6,706.5 13.8,707.3 16.5,708.3 19.4,709.4 22.4,710.6 25.3,711.8 28.1,713.0 30.6,714.3 32.7,715.5 34.7,716.8 36.5,718.1 38.2,719.4 40.0,720.8 41.8,722.3 43.7,724.0 45.8,725.8 48.1,727.9 50.5,730.2 53.1,732.7 55.7,735.3 58.3,737.9 61.0,740.4 63.6,742.8 66.2,744.9 68.8,746.8 71.3,748.6 73.9,750.3 76.4,751.9 79.0,753.4 81.5,754.8 84.0,756.2 86.6,757.6 89.2,759.0 91.8,760.4 94.5,761.7 97.1,763.0 99.7,764.2 102.3,765.3 104.7,766.2 107.0,767.0 109.2,767.6 111.3,768.0 113.3,768.3 115.3,768.5 117.2,768.5 119.0,768.6 120.7,768.5 122.3,768.5 123.8,768.4 125.0,768.3 126.1,768.1 127.1,767.8 128.2,767.5 129.4,767.2 130.8,766.9 132.5,766.5 134.6,766.1 136.9,765.7 139.4,765.3 142.0,764.8 144.7,764.3 147.5,763.8 150.2,763.3 152.8,762.7 155.4,762.1 158.0,761.3 160.7,760.5 163.3,759.7 165.9,758.9 168.5,758.2 170.9,757.6 173.2,757.1 175.4,756.7 177.4,756.5 179.3,756.3 181.2,756.2 183.0,756.1 184.8,756.1 186.6,756.2 188.5,756.3 190.4,756.4 192.2,756.6 194.0,756.8 195.8,757.1 197.7,757.4 199.6,757.8 201.6,758.3 203.8,758.9 206.1,759.6 208.5,760.6 211.0,761.6 213.6,762.7 216.3,763.8 218.9,764.8 221.5,765.7 224.1,766.5 226.6,767.1 229.2,767.7 231.7,768.1 234.3,768.5 236.8,768.9 239.4,769.1 241.9,769.4 244.5,769.6 247.1,769.8 249.8,769.9 252.6,769.9 255.3,769.9 258.0,769.9 260.5,769.8 262.8,769.7 264.9,769.6 266.6,769.5 268.0,769.4 269.2,769.2 270.3,769.0 271.3,768.8 272.4,768.5 273.7,768.2 275.1,767.8 276.8,767.3 278.6,766.7 280.5,766.1 282.4,765.3 284.4,764.6 286.5,763.9 288.5,763.3 290.4,762.7 292.3,762.2 294.2,761.8 296.1,761.4 298.1,761.1 300.0,760.7 301.9,760.3 303.8,759.9 305.7,759.4 307.6,758.8 309.5,758.1 311.4,757.3 313.3,756.5 315.2,755.7 317.1,755.0 319.0,754.3 320.9,753.8 322.8,753.4 324.7,753.0 326.6,752.8 328.5,752.5 330.5,752.3 332.4,752.2 334.3,751.9 336.2,751.7 338.1,751.4 340.0,751.0 341.9,750.6 343.9,750.2 345.8,749.8 347.7,749.5 349.6,749.4 351.5,749.4 353.4,749.6 355.4,750.0 357.3,750.5 359.3,751.1 361.2,751.7 363.1,752.3 365.0,752.9 366.8,753.3 368.6,753.6 370.2,753.8 371.9,753.9 373.5,754.1 375.1,754.2 376.8,754.4 378.4,754.6 380.2,755.0 382.0,755.5 383.9,756.1 385.8,756.8 387.7,757.5 389.7,758.2 391.6,758.9 393.6,759.6 395.5,760.1 397.4,760.5 399.2,760.9 401.0,761.3 402.8,761.6 404.7,761.8 406.6,762.1 408.6,762.4 410.8,762.7 413.1,763.1 415.7,763.5 418.4,763.9 421.1,764.4 423.8,764.7 426.4,765.0 428.9,765.2 431.1,765.2 433.1,765.1 434.8,764.8 436.5,764.4 438.0,764.0 439.4,763.4 440.9,762.8 442.4,762.1 443.9,761.4 445.5,760.6 447.1,759.6 448.8,758.5 450.4,757.4 452.0,756.3 453.6,755.2 455.1,754.2 456.6,753.3 458.0,752.5 459.2,751.8 460.4,751.2 461.5,750.6 462.7,750.0 464.0,749.4 465.3,748.8 466.8,748.2 468.5,747.6 470.3,746.9 472.2,746.2 474.1,745.6 476.1,744.9 478.2,744.3 480.2,743.7 482.1,743.1 484.0,742.5 485.9,742.0 487.8,741.4 489.8,740.9 491.7,740.4 493.6,739.9 495.5,739.5 497.4,739.0 499.3,738.6 501.1,738.1 503.0,737.7 504.8,737.3 506.7,736.9 508.6,736.6 510.6,736.2 512.6,735.9 514.7,735.6 516.9,735.3 519.1,735.0 521.4,734.8 523.7,734.5 526.0,734.3 528.2,734.1 530.5,733.9 532.7,733.8 535.0,733.7 537.3,733.6 539.6,733.6 541.8,733.5 544.0,733.4 546.2,733.2 548.3,732.9 550.3,732.5 552.2,731.9 554.0,731.3 555.8,730.7 557.6,730.0 559.5,729.2 561.5,728.5 563.6,727.8 565.9,727.1 568.5,726.3 571.1,725.6 573.8,724.8 576.5,724.0 579.1,723.2 581.7,722.5 584.0,721.9 586.2,721.3 588.3,720.7 590.4,720.2 592.4,719.7 594.3,719.2 596.0,718.8 597.7,718.4 599.2,718.1 600.5,717.8 601.5,717.6 602.4,717.4 603.2,717.2 604.0,717.1 604.8,717.1 605.7,717.2 606.9,717.3 608.2,717.6 609.7,718.0 611.2,718.4 612.8,719.0 614.4,719.6 616.1,720.2 617.9,720.7 619.6,721.2 621.4,721.6 623.2,722.1 625.1,722.5 627.1,722.9 629.0,723.3 631.0,723.7 633.0,724.1 634.9,724.5 636.8,725.0 638.6,725.4 640.4,725.9 642.2,726.4 644.1,726.9 646.0,727.3 648.0,727.8 650.2,728.3 652.5,728.8 655.0,729.3 657.6,729.8 660.2,730.4 662.9,730.9 665.6,731.3 668.1,731.7 670.6,732.1 672.9,732.4 675.2,732.7 677.5,733.0 679.7,733.3 681.8,733.5 684.0,733.5 686.2,733.5 688.4,733.4 690.6,733.1 692.8,732.7 695.0,732.1 697.1,731.5 699.3,730.8 701.6,730.1 703.9,729.4 706.2,728.8 708.7,728.2 711.3,727.6 714.0,726.9 716.7,726.3 719.3,725.6 721.9,725.0 724.4,724.3 726.6,723.7 728.6,723.1 730.5,722.4 732.2,721.8 733.8,721.2 735.3,720.5 736.9,719.9 738.4,719.3 740.0,718.6 741.6,717.9 743.2,717.2 744.7,716.4 746.2,715.6 747.8,714.9 749.4,714.2 751.0,713.6 752.7,713.0 754.5,712.5 756.4,712.1 758.4,711.7 760.3,711.4 762.3,711.1 764.3,710.8 766.2,710.6 768.0,710.5 769.7,710.4 771.2,710.3 772.7,710.3 774.1,710.4 775.6,710.5 777.1,710.6 778.9,710.8 780.8,711.0 783.0,711.2 785.3,711.5 787.9,711.8 790.5,712.1 793.2,712.5 795.8,713.0 798.5,713.6 801.1,714.3 803.6,715.2 806.2,716.2 808.7,717.3 811.3,718.5 813.8,719.8 816.4,721.0 818.9,722.1 821.5,723.2 824.0,724.2 826.6,725.2 829.1,726.2 831.7,727.2 834.2,728.1 836.8,728.9 839.4,729.6 841.9,730.1 844.5,730.4 847.0,730.6 849.6,730.7 852.1,730.6 854.7,730.5 857.2,730.4 859.8,730.3 862.3,730.3 864.8,730.3 867.4,730.4 869.9,730.4 872.4,730.5 875.0,730.5 877.5,730.6 880.1,730.7 882.6,730.8 885.1,730.9 887.7,731.0 890.2,731.1 892.8,731.2 895.3,731.4 897.9,731.6 900.4,731.8 903.0,732.1 905.5,732.5 908.1,732.9 910.6,733.3 913.2,733.8 915.8,734.4 918.3,734.9 920.9,735.4 923.4,735.9 926.0,736.4 928.6,737.0 931.2,737.6 933.8,738.1 936.3,738.7 938.9,739.2 941.4,739.5 943.8,739.8 946.1,739.9 948.4,740.0 950.7,740.0 952.9,739.9 955.0,739.7 957.2,739.5 959.4,739.3 961.6,739.0 963.8,738.7 966.1,738.3 968.4,737.9 970.7,737.4 972.9,736.9 975.1,736.4 977.3,735.9 979.4,735.4 981.4,734.9 983.4,734.3 985.3,733.6 987.2,733.0 989.1,732.4 990.9,731.9 992.8,731.6 994.7,731.4 996.6,731.4 998.5,731.6 1000.3,731.9 1002.2,732.3 1004.1,732.8 1006.0,733.3 1008.0,734.0 1010.0,734.7 1012.1,735.5 1014.3,736.4 1016.5,737.4 1018.7,738.5 1021.0,739.6 1023.3,740.8 1025.6,741.9 1027.8,743.1 1030.1,744.3 1032.4,745.6 1034.7,746.9 1037.1,748.3 1039.4,749.6 1041.6,750.9 1043.7,752.2 1045.7,753.3 1047.5,754.3 1049.2,755.2 1050.8,756.0 1052.4,756.8 1053.9,757.5 1055.3,758.3 1056.8,759.2 1058.4,760.1 1060.0,761.1 1061.6,762.3 1063.2,763.5 1064.7,764.7 1066.3,765.9 1067.9,767.1 1069.5,768.1 1071.1,769.1 1072.7,770.0 1074.3,770.8 1075.9,771.6 1077.5,772.4 1079.1,773.0 1080.7,773.6 1082.3,774.0 1083.9,774.2 1085.5,774.2 1087.1,774.1 1088.8,773.8 1090.4,773.4 1092.0,773.0 1093.6,772.5 1095.1,772.0 1096.6,771.6 1098.1,771.2 1099.6,770.7 1101.1,770.3 1102.5,769.8 1103.8,769.3 1105.0,768.9 1106.0,768.6 1106.8,768.3" fill="none" stroke="#fde13a" stroke-width="1.3" stroke-linejoin="round"/>
<polyline points="10.0,741.0 17.8,742.3 24.2,738.5 30.6,741.5 35.7,749.4 40.8,750.0 47.9,757.6 53.5,755.8 59.9,760.1 70.8,781.8 76.4,779.2 82.8,777.2 87.9,778.2 94.2,779.2 99.3,776.2 105.7,775.7 117.7,751.7 123.5,751.7 128.6,735.4 135.0,742.3 140.6,746.1 147.2,755.6 152.8,759.4 159.2,752.5 165.0,755.6 170.1,756.3 175.7,767.0 181.4,767.3 188.0,777.2 193.6,775.4 199.2,777.2 205.0,778.0 210.9,771.1 216.5,771.6 222.9,767.0 228.0,765.2 233.8,764.0 239.9,776.2 245.8,762.7 251.7,768.5 257.3,761.4 263.6,765.2 268.7,766.5 275.1,766.5 280.7,743.1 287.3,744.1 292.4,757.6 298.0,756.3 303.6,746.1 310.2,729.6 315.8,743.1 322.2,749.2 328.6,750.7 333.7,752.5 339.3,751.7 345.1,754.3 351.5,742.3 356.6,769.0 362.2,767.8 368.1,776.2 373.8,777.2 379.7,760.9 385.8,768.5 391.7,760.9 397.5,764.7 403.1,765.2 408.7,760.6 414.6,763.2 420.4,760.9 426.0,760.9 443.9,739.8 455.3,718.1 461.2,726.3 467.3,720.2 473.2,751.2 479.0,737.2 485.1,739.3 490.2,739.3 496.1,735.4 501.9,743.1 507.5,744.3 513.9,734.2 519.0,735.9 524.9,730.8 531.0,716.8 536.8,721.4 548.3,714.3 553.9,707.9 559.8,709.2 566.1,713.5 572.5,713.5 578.4,711.0 582.7,723.7 588.5,723.2 594.7,718.1 600.5,723.7 606.9,727.8 617.6,748.2 624.2,730.3 629.8,730.8 636.2,727.5 642.0,739.0 647.6,727.8 654.0,732.9 659.9,736.0 665.5,736.5 671.1,739.3 676.9,730.1 682.8,728.3 688.4,730.8 694.0,717.6 700.4,724.0 706.2,715.6 711.3,700.3 716.9,719.9 729.1,706.7 735.5,704.1 740.6,704.9 745.6,708.4 751.5,707.2 757.8,700.3 764.2,710.0 769.3,716.1 775.2,726.3 780.8,717.3 787.1,723.2 793.0,718.9 799.1,730.1 805.0,733.4 810.0,741.5 815.9,745.6 827.9,737.2 833.7,739.8 838.8,726.3 845.7,721.4 852.1,720.7 857.2,720.2 862.8,717.6 868.6,728.8 874.5,726.5 880.1,726.5 885.7,733.4 892.1,753.8 897.9,744.9 904.3,750.5 909.4,750.5 915.2,747.4 920.8,745.6 927.2,736.5 933.1,738.0 938.2,744.1 943.8,732.1 950.1,724.5 956.0,722.7 962.1,725.0 968.0,721.4 973.1,736.0 978.9,723.2 985.0,719.9 990.9,728.3 996.7,741.0 1001.8,760.1 1008.0,754.3 1020.2,780.5 1026.5,772.4 1032.4,775.9 1038.0,774.9 1043.1,772.9 1048.7,767.8 1055.3,770.3 1060.9,773.4 1066.5,779.2 1071.6,777.2 1078.3,784.3 1084.4,782.6 1089.5,755.8 1095.3,750.0 1101.2,745.4 1106.8,742.3" fill="none" stroke="#7e57c2" stroke-width="1.1" stroke-linejoin="round"/>
</g>
<circle cx="1084.4" cy="781" r="12.5" fill="#f23645" fill-opacity="0.45" stroke="#555" stroke-opacity="0.75" stroke-width="2.5"/>
<line x1="11" y1="794.5" x2="1481" y2="794.5" stroke="#50535e" stroke-width="1.2"/>
<line x1="1416.5" y1="27" x2="1416.5" y2="822" stroke="#50535e" stroke-width="1.2"/>
<text x="18.2" y="45.9" font-size="12" fill="#434651" textLength="21" lengthAdjust="spacingAndGlyphs">SMA</text>
<text x="46.6" y="45.9" font-size="12" fill="#f23645" textLength="41.9" lengthAdjust="spacingAndGlyphs">0.65400</text>
<text x="18.2" y="62.7" font-size="12" fill="#434651" textLength="21" lengthAdjust="spacingAndGlyphs">SMA</text>
<text x="46.6" y="62.7" font-size="12" fill="#3434ff" textLength="41.9" lengthAdjust="spacingAndGlyphs">0.66015</text>
<text x="18.9" y="708.8" font-size="12" fill="#434651" textLength="14.5" lengthAdjust="spacingAndGlyphs">RSI</text>
<text x="41.7" y="708.8" font-size="12" fill="#7e57c2" textLength="28.5" lengthAdjust="spacingAndGlyphs">49.82</text>
<text x="78.4" y="708.8" font-size="12" fill="#fde13a" textLength="29.4" lengthAdjust="spacingAndGlyphs">35.75</text>
<text x="115.4" y="708.8" font-size="11" fill="#434651" textLength="6.8" lengthAdjust="spacingAndGlyphs">&#216;</text>
<text x="131" y="708.8" font-size="11" fill="#434651" textLength="6.8" lengthAdjust="spacingAndGlyphs">&#216;</text>
<text x="146.2" y="708.8" font-size="11" fill="#434651" textLength="6.8" lengthAdjust="spacingAndGlyphs">&#216;</text>
<text x="162.1" y="708.8" font-size="11" fill="#434651" textLength="6.8" lengthAdjust="spacingAndGlyphs">&#216;</text>
<rect x="1420" y="31" width="57.5" height="26" rx="5" fill="#fff" stroke="#e0e3eb" stroke-width="1.5"/>
<text x="1428.9" y="48.6" font-size="12" fill="#2a2e39" textLength="21" lengthAdjust="spacingAndGlyphs">CHF</text>
<text x="1425" y="100.7" font-size="11.5" fill="#434651" textLength="41.7" lengthAdjust="spacingAndGlyphs">0.68000</text>
<text x="1425" y="156.0" font-size="11.5" fill="#434651" textLength="41.7" lengthAdjust="spacingAndGlyphs">0.67500</text>
<text x="1425" y="211.4" font-size="11.5" fill="#434651" textLength="41.7" lengthAdjust="spacingAndGlyphs">0.67000</text>
<text x="1425" y="266.7" font-size="11.5" fill="#434651" textLength="41.7" lengthAdjust="spacingAndGlyphs">0.66500</text>
<text x="1425" y="432.7" font-size="11.5" fill="#434651" textLength="41.7" lengthAdjust="spacingAndGlyphs">0.65000</text>
<text x="1425" y="488.0" font-size="11.5" fill="#434651" textLength="41.7" lengthAdjust="spacingAndGlyphs">0.64500</text>
<text x="1425" y="543.3" font-size="11.5" fill="#434651" textLength="41.7" lengthAdjust="spacingAndGlyphs">0.64000</text>
<text x="1425" y="598.7" font-size="11.5" fill="#434651" textLength="41.7" lengthAdjust="spacingAndGlyphs">0.63500</text>
<text x="1425" y="654.0" font-size="11.5" fill="#434651" textLength="41.7" lengthAdjust="spacingAndGlyphs">0.63000</text>
<rect x="1416.5" y="191.1" width="56.299999999999955" height="16.5" rx="2" fill="#000"/>
<text x="1444.7" y="203.9" font-size="13" fill="#fff" text-anchor="middle" font-weight="bold" textLength="42" lengthAdjust="spacingAndGlyphs">0.67075</text>
<rect x="1416.5" y="353" width="56.299999999999955" height="16.2" rx="2" fill="#000"/>
<text x="1444.7" y="365.7" font-size="13" fill="#fff" text-anchor="middle" font-weight="bold" textLength="42" lengthAdjust="spacingAndGlyphs">0.65591</text>
<rect x="1416.5" y="445.2" width="56.299999999999955" height="16.4" rx="2" fill="#000"/>
<text x="1444.7" y="458.0" font-size="13" fill="#fff" text-anchor="middle" font-weight="bold" textLength="42" lengthAdjust="spacingAndGlyphs">0.64774</text>
<rect x="1416.5" y="308" width="56.299999999999955" height="17" rx="2" fill="#3434ff"/>
<text x="1444.7" y="321.1" font-size="13" fill="#fff" text-anchor="middle" font-weight="bold" textLength="42" lengthAdjust="spacingAndGlyphs">0.66015</text>
<rect x="1364" y="308" width="51" height="17" rx="2" fill="#3434ff"/>
<text x="1389.5" y="321.1" font-size="13" fill="#fff" text-anchor="middle" font-weight="bold" textLength="40" lengthAdjust="spacingAndGlyphs">SMA:MA</text>
<rect x="1416.5" y="401" width="56.299999999999955" height="17" rx="2" fill="#f23645"/>
<text x="1444.7" y="414.1" font-size="13" fill="#fff" text-anchor="middle" font-weight="bold" textLength="42" lengthAdjust="spacingAndGlyphs">0.65400</text>
<rect x="1364" y="401" width="51" height="17" rx="2" fill="#f23645"/>
<text x="1389.5" y="414.1" font-size="13" fill="#fff" text-anchor="middle" font-weight="bold" textLength="40" lengthAdjust="spacingAndGlyphs">SMA:MA</text>
<rect x="1416.5" y="370" width="60.3" height="31" rx="2" fill="#26a69a"/>
<text x="1445" y="383" font-size="12" fill="#fff" font-weight="bold" text-anchor="middle" textLength="42" lengthAdjust="spacingAndGlyphs">0.65457</text>
<text x="1446.5" y="397" font-size="12" fill="#d8f0ee" text-anchor="middle" textLength="46" lengthAdjust="spacingAndGlyphs">08:11:00</text>
<rect x="1363" y="370" width="52" height="17" rx="2" fill="#26a69a"/>
<text x="1389.0" y="383.1" font-size="13" fill="#fff" text-anchor="middle" textLength="42" lengthAdjust="spacingAndGlyphs">CADCHF</text>
<text x="1425" y="727.8" font-size="11.5" fill="#434651" textLength="29.2" lengthAdjust="spacingAndGlyphs">60.00</text>
<text x="1425" y="765" font-size="11.5" fill="#434651" textLength="29.2" lengthAdjust="spacingAndGlyphs">40.00</text>
<rect x="1416.6" y="734.1" width="43.200000000000045" height="16.7" rx="2" fill="#7e57c2"/>
<text x="1438.2" y="747.1" font-size="13" fill="#fff" text-anchor="middle" font-weight="bold" textLength="30" lengthAdjust="spacingAndGlyphs">49.82</text>
<rect x="1389.1" y="734.1" width="25.600000000000136" height="16.7" rx="2" fill="#7e57c2"/>
<text x="1401.9" y="747.1" font-size="13" fill="#fff" text-anchor="middle" font-weight="bold" textLength="16.5" lengthAdjust="spacingAndGlyphs">RSI</text>
<rect x="1416.6" y="760.1" width="43.200000000000045" height="16.7" rx="2" fill="#fde13a"/>
<text x="1438.2" y="773.1" font-size="13" fill="#131722" text-anchor="middle" textLength="30" lengthAdjust="spacingAndGlyphs">35.75</text>
<rect x="1335.2" y="760.1" width="79.5" height="16.7" rx="2" fill="#fde13a"/>
<text x="1375.0" y="773.1" font-size="13" fill="#131722" text-anchor="middle" textLength="70" lengthAdjust="spacingAndGlyphs">RSI-based MA</text>
<text x="124" y="811.8" font-size="12" fill="#434651" text-anchor="middle">Nov</text>
<text x="253" y="811.8" font-size="12" fill="#434651" text-anchor="middle">Dec</text>
<text x="374" y="811.8" font-size="12" fill="#434651" text-anchor="middle" font-weight="bold">2024</text>
<text x="507.6" y="811.8" font-size="12" fill="#434651" text-anchor="middle">Feb</text>
<text x="629.5" y="811.8" font-size="12" fill="#434651" text-anchor="middle">Mar</text>
<text x="752.1" y="811.8" font-size="12" fill="#434651" text-anchor="middle">Apr</text>
<text x="879.8" y="811.8" font-size="12" fill="#434651" text-anchor="middle">May</text>
<text x="1014.3" y="811.8" font-size="12" fill="#434651" text-anchor="middle">Jun</text>
<text x="1130.8" y="811.8" font-size="12" fill="#434651" text-anchor="middle">Jul</text>
<text x="1265" y="811.8" font-size="12" fill="#434651" text-anchor="middle">Aug</text>
<text x="1393.3" y="811.8" font-size="12" fill="#434651" text-anchor="middle">Sep</text>
<path d="M10.1,834 H17.8 V843.7 H14 V837.8 H10.1 Z" fill="#131722"/>
<circle cx="21.2" cy="836" r="1.9" fill="#131722"/>
<path d="M25.3,834 H29.6 L25.8,843.7 H21.2 Z" fill="#131722"/>
<text x="34.1" y="843.8" font-size="13" fill="#131722" textLength="69" lengthAdjust="spacingAndGlyphs">TradingView</text>
<defs><filter id="blur1" x="-20%" y="-20%" width="140%" height="140%"><feGaussianBlur stdDeviation="0.8"/></filter></defs>
<g transform="matrix(1,0,-0.26,1,1260.6,764)" fill="none" stroke-linecap="butt" stroke-linejoin="miter">
<path d="M8,2 L12,16 M2,19 L12,26 M0,55 L14,37 M19,18 L27,6 L56,6 M26,22 L50,22 L49,55 L28,55 M26,22 L23,40 M12,38 L58,38 M36,27 L40,33 M34,44 L38,50" transform="translate(-1.6,1.6)" stroke="#4a4c55" stroke-opacity="0.6" stroke-width="7.5" filter="url(#blur1)"/>
<path d="M8,2 L12,16 M2,19 L12,26 M0,55 L14,37 M19,18 L27,6 L56,6 M26,22 L50,22 L49,55 L28,55 M26,22 L23,40 M12,38 L58,38 M36,27 L40,33 M34,44 L38,50" stroke="#ffffff" stroke-opacity="0.82" stroke-width="7"/>
</g>
<g transform="matrix(1,0,-0.26,1,1326.6,764)" fill="none" stroke-linecap="butt" stroke-linejoin="miter">
<path d="M8,5 L46,5 M11,5 L10,26 M4,27 L52,27 L48,52 L34,54 M0,44 L40,44" transform="translate(-1.6,1.6)" stroke="#4a4c55" stroke-opacity="0.6" stroke-width="7.5" filter="url(#blur1)"/>
<path d="M8,5 L46,5 M11,5 L10,26 M4,27 L52,27 L48,52 L34,54 M0,44 L40,44" stroke="#ffffff" stroke-opacity="0.82" stroke-width="7"/>
</g>
<g transform="matrix(1,0,-0.26,1,1386.6,764)" fill="none" stroke-linecap="butt" stroke-linejoin="miter">
<path d="M2,8 L20,8 L20,42 M2,8 L2,42 M11,16 L11,36 M8,45 L0,55 M15,45 L22,55 M26,20 L57,20 M46,2 L46,53 L38,50 M44,25 L26,47" transform="translate(-1.6,1.6)" stroke="#4a4c55" stroke-opacity="0.6" stroke-width="7.5" filter="url(#blur1)"/>
<path d="M2,8 L20,8 L20,42 M2,8 L2,42 M11,16 L11,36 M8,45 L0,55 M15,45 L22,55 M26,20 L57,20 M46,2 L46,53 L38,50 M44,25 L26,47" stroke="#ffffff" stroke-opacity="0.82" stroke-width="7"/>
</g>
<g transform="matrix(1,0,-0.26,1,1443.6,764)" fill="none" stroke-linecap="butt" stroke-linejoin="miter">
<path d="M13,2 L4,17 L16,20 L4,34 L19,30 M1,53 L19,44 M26,5 L52,5 L30,27 M35,12 L57,28 M25,36 L55,36 M40,30 L40,54 M21,54 L58,54" transform="translate(-1.6,1.6)" stroke="#4a4c55" stroke-opacity="0.6" stroke-width="7.5" filter="url(#blur1)"/>
<path d="M13,2 L4,17 L16,20 L4,34 L19,30 M1,53 L19,44 M26,5 L52,5 L30,27 M35,12 L57,28 M25,36 L55,36 M40,30 L40,54 M21,54 L58,54" stroke="#ffffff" stroke-opacity="0.82" stroke-width="7"/>
</g>
<text x="1256 1283.5 1312 1333 1353.5 1382 1415 1431 1459" y="851.8" font-size="33" font-weight="bold" font-style="italic" fill="#6a6c72" fill-opacity="0.55" stroke="#6a6c72" stroke-opacity="0.55" stroke-width="1.6" transform="translate(1.5,1.5)">zzrt01.cn</text>
<text x="1256 1283.5 1312 1333 1353.5 1382 1415 1431 1459" y="851.8" font-size="33" font-weight="bold" font-style="italic" fill="#88cdc4" stroke="#88cdc4" stroke-width="1.6">zzrt01.cn</text>
</svg></body></html>
